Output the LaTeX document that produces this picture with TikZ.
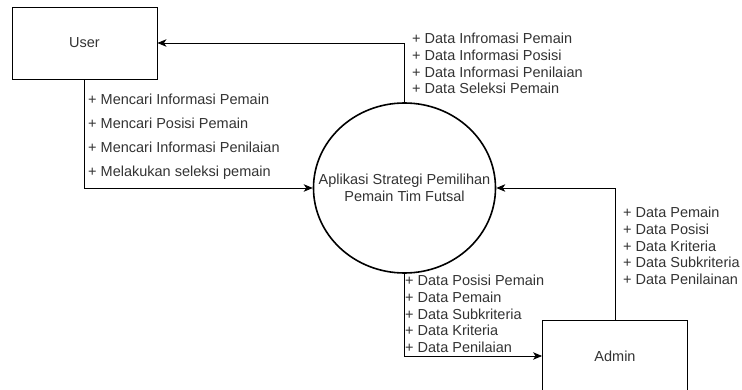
\documentclass[tikz,border=0pt]{standalone}
\usepackage{fontspec}
\setmainfont{Liberation Sans}
\usetikzlibrary{arrows.meta,positioning,shapes.geometric,calc}
\definecolor{DFDtext}{RGB}{51,51,51}

\begin{document}
\begin{tikzpicture}[x=1pt, y=-1pt,
    entity/.style={draw, line width=0.9pt, minimum width=145pt, minimum height=72pt, inner sep=0pt, font=\fontsize{14.5}{17}\selectfont, text=DFDtext},
    proc/.style={ellipse, draw, line width=1.6pt, minimum width=182pt, minimum height=170pt, inner xsep=-30pt, inner ysep=0pt, align=center, font=\fontsize{14.5}{17}\selectfont, text=DFDtext},
    flow/.style={-{Stealth[length=9pt, width=7.5pt, inset=2.5pt]}, line width=0.8pt},
    lbl/.style={anchor=north west, align=left, inner sep=0pt, text=DFDtext}]
    \useasboundingbox (0,0) rectangle (742,390);
    \clip (0,0) rectangle (742,390);

    % Entities and process
    \node[entity] (user) at (84.5,43) {User};
    \node[entity] (admin) at (615,356) {Admin};
    \node[proc] (app) at (404.5,188) {Aplikasi Strategi Pemilihan\\Pemain Tim Futsal};

    % Flows
    \draw[flow] (user.south) |- (app.west);
    \draw[flow] (app.north) |- (user.east);
    \draw[flow] (admin.north) |- (app.east);
    \draw[flow] (app.south) |- (admin.west);

    % Labels
    \node[lbl, font=\fontsize{14.5}{24}\selectfont] (cari) at (88,94)
        {+ Mencari Informasi Pemain\\+ Mencari Posisi Pemain\\+ Mencari Informasi Penilaian\\+ Melakukan seleksi pemain};
    \node[lbl, font=\fontsize{14.5}{16.7}\selectfont] (info) at (412,33)
        {+ Data Infromasi Pemain\\+ Data Informasi Posisi\\+ Data Informasi Penilaian\\+ Data Seleksi Pemain};
    \node[lbl, font=\fontsize{14.5}{16.7}\selectfont] (kelola) at (623,207)
        {+ Data Pemain\\+ Data Posisi\\+ Data Kriteria\\+ Data Subkriteria\\+ Data Penilainan};
    \node[lbl, font=\fontsize{14.5}{16.7}\selectfont] (hasil) at (405,275)
        {+ Data Posisi Pemain\\+ Data Pemain\\+ Data Subkriteria\\+ Data Kriteria\\+ Data Penilaian};
\end{tikzpicture}
\end{document}
